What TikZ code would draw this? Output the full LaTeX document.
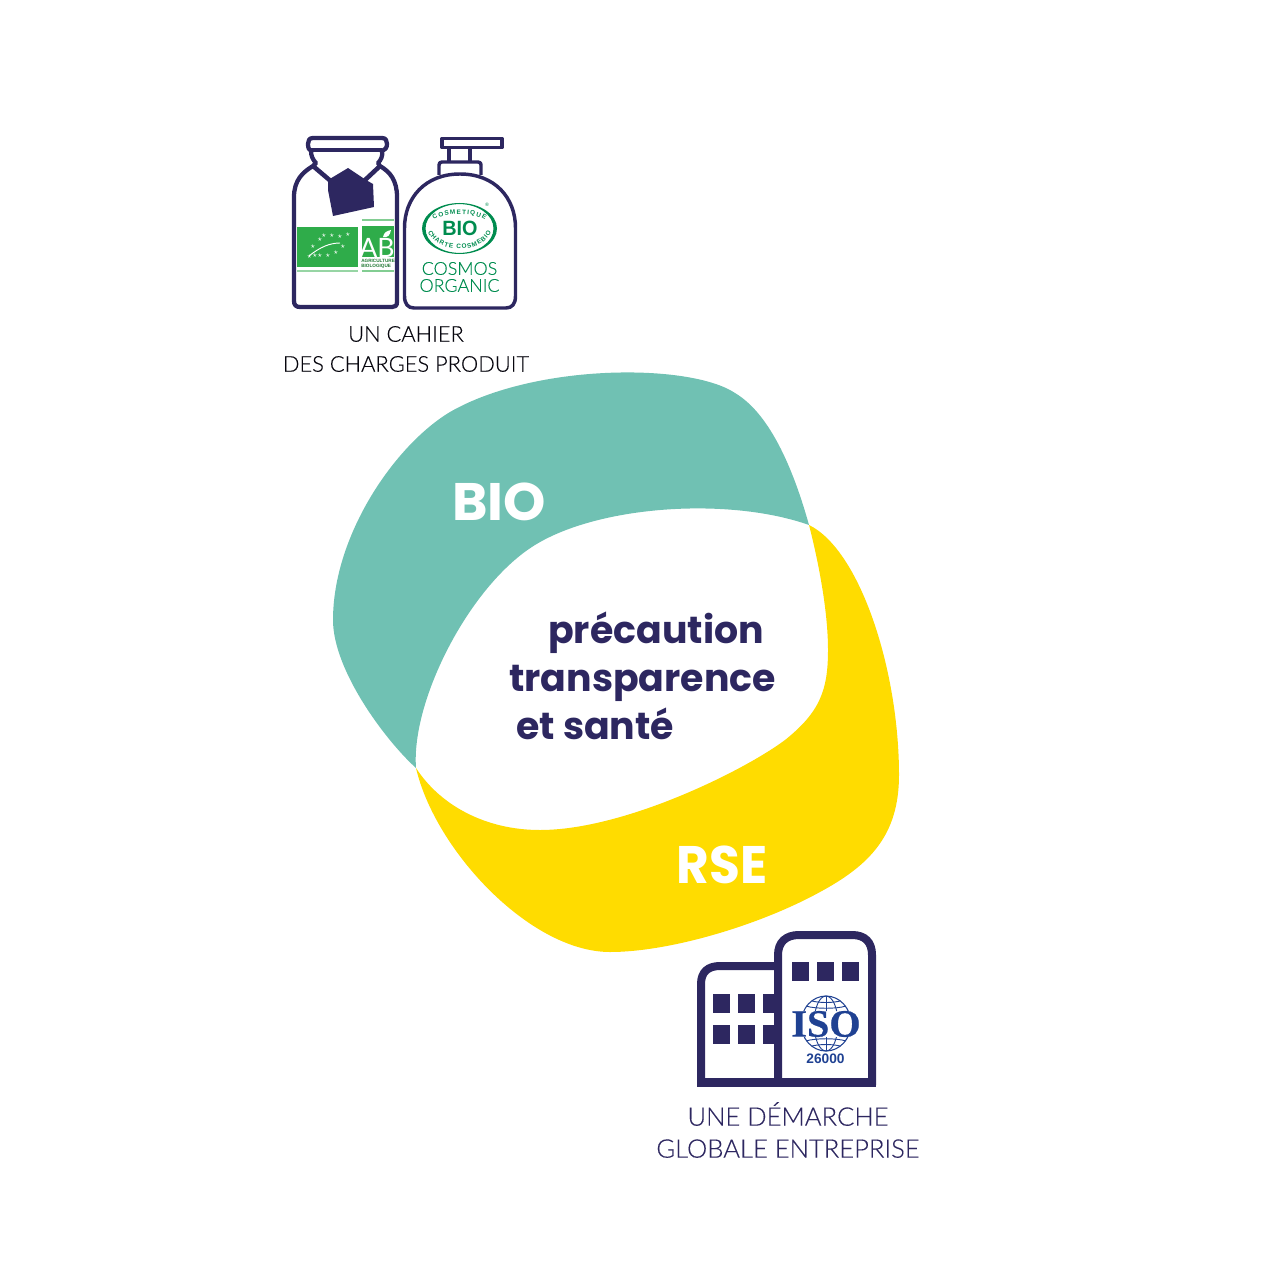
\documentclass[tikz,border=0pt]{standalone}
\usepackage{fontspec}
\usetikzlibrary{decorations.text}
\setmainfont{Lato}
\newfontfamily\capfont{Lato Light}[RawFeature={embolden=0.3}]
\newfontfamily\abfont{Lato}
\newfontfamily\headfont{Poppins}[UprightFont=* Bold,BoldFont=* Bold]
\newfontfamily\isofont{Liberation Sans}
\newfontfamily\isoserif{Liberation Serif}[RawFeature={embolden=0.6}]
\definecolor{navy}{HTML}{2D2760}
\definecolor{teal}{HTML}{70C1B3}
\definecolor{sun}{HTML}{FFDC00}
\definecolor{abgreen}{HTML}{2FAC4A}
\definecolor{cosgreen}{HTML}{008C4F}
\definecolor{isoblue}{HTML}{1F4192}
\tikzset{
  capt/.style={font=\capfont\fontsize{16.4}{22.5}\selectfont,align=center,inner sep=0pt},
  bighead/.style={font=\headfont\fontsize{39.6}{39.6}\selectfont,text=white,inner sep=0pt},
  midhead/.style={font=\headfont\fontsize{28.4}{28.4}\selectfont,text=navy,inner sep=0pt,anchor=base west},
  icon/.style={draw=navy,line width=2.6pt,line join=round},
  wall/.style={draw=navy,line width=6pt},
  pane/.style={fill=navy},
  sealtext/.style={decorate,decoration={text along path,text align={fit to path},text={|\isofont\bfseries\fontsize{4.8}{4.8}\selectfont\color{cosgreen}|#1}}},
}
\begin{document}
\begin{tikzpicture}[x=0.75pt,y=-0.75pt]
\useasboundingbox (0,0) rectangle (1280,1280);
% teal lobe
\fill[teal] (809,525) .. controls (795,475) and (772,415) .. (735,393)
  .. controls (690,363) and (535,363) .. (450,412)
  .. controls (395,445) and (333,535) .. (333,620)
  .. controls (333,670) and (385,740) .. (416,768)
  .. controls (411,700) and (470,585) .. (535,545)
  .. controls (600,505) and (730,497) .. (809,525) -- cycle;
% yellow lobe
\fill[sun] (809,525) .. controls (860,550) and (899,670) .. (899,775)
  .. controls (899,835) and (870,865) .. (820,892)
  .. controls (760,925) and (670,952) .. (610,952)
  .. controls (530,952) and (435,850) .. (416,768)
  .. controls (440,805) and (485,830) .. (540,830)
  .. controls (625,830) and (745,770) .. (785,740)
  .. controls (820,712) and (828,690) .. (828,650)
  .. controls (828,610) and (818,560) .. (809,525) -- cycle;
\node[bighead,xscale=1.02] (bio) at (499,502) {BIO};
\node[bighead,xscale=.95] (rse) at (722,865) {RSE};
\node[midhead] (t1) at (548,643) {précaution};
\node[midhead] (t2) at (509,691) {transparence};
\node[midhead] (t3) at (516,739) {et santé};
\node[capt,text=black!85!navy] (c1) at (406,349) {UN CAHIER\\DES CHARGES PRODUIT};
\node[capt,text=navy,font=\capfont\fontsize{19.2}{24}\selectfont] (c2) at (788,1130) {UNE DÉMARCHE\\GLOBALE ENTREPRISE};
% jar
\draw[icon,line width=3.2pt] (313,138) -- (382,138) .. controls (386,138) and (387,141) .. (387,144)
  .. controls (387,148) and (385,150) .. (382,151) .. controls (383,156) and (381,160) .. (378,163)
  -- (380,166) .. controls (390,172) and (397,180) .. (397,197) -- (397,302) .. controls (397,306) and (395,307) .. (392,307)
  -- (300,307) .. controls (296,307) and (294,305) .. (294,301) -- (294,197)
  .. controls (294,180) and (303,172) .. (313,166) -- (316,163) .. controls (313,160) and (311,156) .. (311,151)
  .. controls (309,150) and (308,148) .. (308,144) .. controls (308,141) and (309,138) .. (313,138) -- cycle;
\draw[navy,line width=3pt] (311,150) -- (382,150);
\draw[navy,line width=3.4pt] (313,166) -- (333,183) (380,166) -- (364,181);
\fill[navy] (328,180) -- (348,168) -- (366,180) -- (373,184) -- (374,207) -- (333,216) -- (328,190) -- cycle;
% EU label
\fill[abgreen] (297,227) rectangle (358,267);
\fill[abgreen!50] (297,270) rectangle (358,272);
\fill[abgreen] (362,226) rectangle (394,257);
\draw[abgreen!60,line width=0.8pt] (362,220) -- (394,220) (362,271) -- (394,271);
\foreach \a/\b in {309.5/257,313/247,320/240,324/236,332/236,340/237,348/235,343/247,336/253,328/256,320/256,315/256}
  \node[text=white,inner sep=0pt,font=\fontsize{6}{6}\selectfont] at (\a,\b) {$\star$};
\draw[white,line width=0.7pt] (309,256) .. controls (320,247) and (330,243) .. (340,243);
\node[inner sep=0pt,text=white,font=\abfont\fontsize{20}{20}\selectfont] (ab) at (377,248) {AB};
\fill[white] (383,237) .. controls (384,232) and (387,231) .. (391,230) .. controls (390,235) and (388,238) .. (383,237);
\node[inner sep=0pt,text=abgreen!70!black,font=\isofont\bfseries\fontsize{3.5}{3.9}\selectfont,align=left,anchor=west] (abt) at (361,264) {AGRICULTURE\\BIOLOGIQUE};
% pump bottle
\draw[icon] (442,138.5) rectangle (502,147.5);
\draw[navy,line width=2.6pt] (449,148) -- (449,162) (470,148) -- (470,162);
\draw[icon] (439,175) -- (439,165) .. controls (439,163) and (440,162) .. (442,162) -- (478,162) .. controls (480,162) and (481,163) .. (481,165) -- (481,175);
\draw[icon] (460,174) .. controls (495,174) and (515.5,198) .. (515.5,228) -- (515.5,296)
  .. controls (515.5,304) and (512,308) .. (506,308) -- (414,308) .. controls (408,308) and (404.5,304) .. (404.5,296)
  -- (404.5,228) .. controls (404.5,198) and (425,174) .. (460,174) -- cycle;
% cosmebio seal
\fill[cosgreen,even odd rule] (459.5,228.5) ellipse [x radius=37.5,y radius=25.5] (459.5,228.5) ellipse [x radius=34,y radius=24.4];
\node[inner sep=0pt,text=cosgreen,font=\isofont\bfseries\fontsize{15.5}{15.5}\selectfont,xscale=.96] (biob) at (460,228.5) {BIO};
\path[sealtext=COSMETIQUE] (434,220) .. controls (443,212.5) and (476,212.5) .. (485,220);
\path[sealtext={CHARTE COSMEBIO}] (428,232) .. controls (437,254.5) and (482,254.5) .. (491,232);
\node[inner sep=0pt,text=cosgreen,font=\fontsize{3.5}{3.5}\selectfont] (reg) at (487,205) {®};
\node[inner sep=0pt,text=cosgreen,align=center,font=\capfont\fontsize{13.4}{12.75}\selectfont] (cos) at (459.5,277) {COSMOS\\ORGANIC};
% buildings
\draw[wall] (701,1085) -- (701,984) .. controls (701,972) and (708,966) .. (720,966) -- (778,966);
\draw[wall] (778,1085) -- (778,955) .. controls (778,942) and (786,935) .. (799,935)
  -- (852,935) .. controls (865,935) and (872,942) .. (872,955) -- (872,1085);
\draw[navy,line width=6.8pt] (697,1082.5) -- (876,1082.5);
\foreach \x in {713,738} \foreach \y in {994,1025} \fill[pane] (\x,\y) rectangle ++(17,19);
\foreach \y in {994,1025} \fill[pane] (763,\y) rectangle (777,\y+19);
\foreach \x in {792,817,842} \fill[pane] (\x,962) rectangle ++(17,19);
% ISO globe
\begin{scope}
\clip (785,994) rectangle (870,1011) (785,1037) rectangle (870,1053);
\draw[isoblue,line width=0.8pt] (826,1023.5) ellipse [x radius=25,y radius=27.5];
\draw[isoblue,line width=0.7pt] (826,1023.5) ellipse [x radius=12,y radius=27.5];
\draw[isoblue,line width=0.7pt] (826,996) -- (826,1051);
\draw[isoblue,line width=0.7pt] (806,1006) .. controls (815,1009) and (837,1009) .. (846,1006)
  (806,1041) .. controls (815,1038) and (837,1038) .. (846,1041);
\draw[isoblue,line width=0.7pt] (812,1001) .. controls (820,1003) and (832,1003) .. (840,1001)
  (812,1046) .. controls (820,1044) and (832,1044) .. (840,1046);
\end{scope}
\node[inner sep=0pt,text=isoblue,font=\isoserif\bfseries\fontsize{29}{29}\selectfont,xscale=1.04] (iso) at (826,1024) {ISO};
\node[inner sep=0pt,text=isoblue,font=\isofont\bfseries\fontsize{10.3}{10.3}\selectfont] (n26) at (825.5,1059) {26000};
\end{tikzpicture}
\end{document}
